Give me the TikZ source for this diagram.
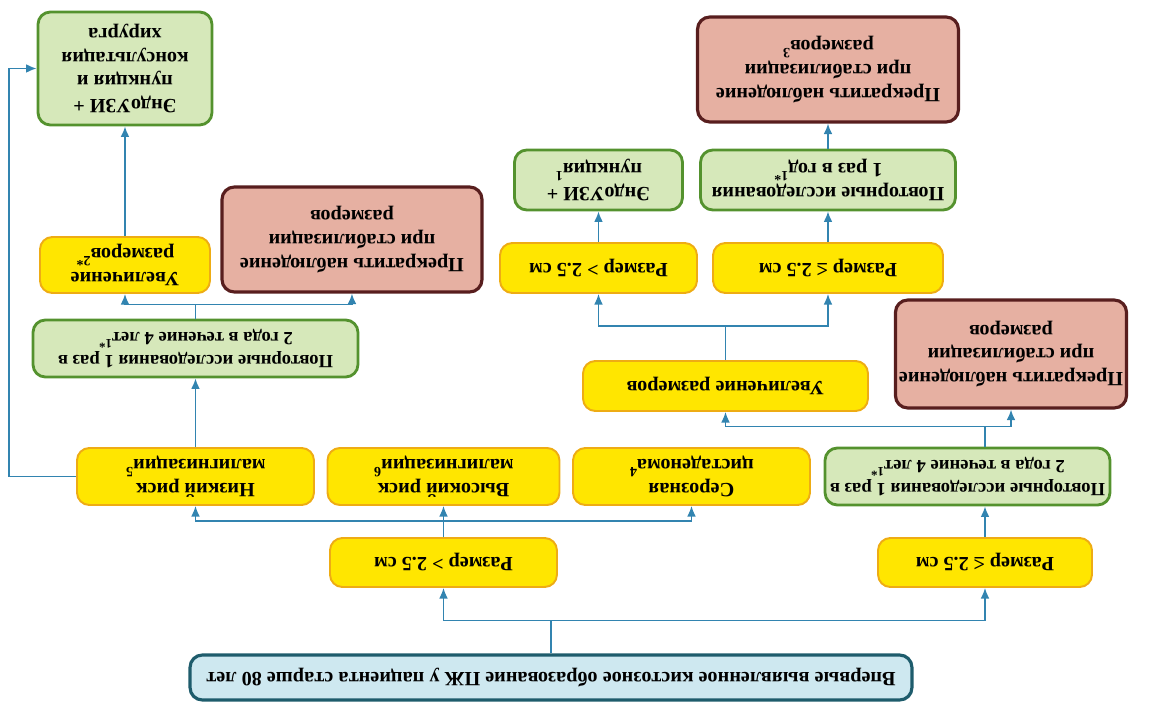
\documentclass[tikz,border=0pt]{standalone}
\usepackage{fontspec}
\setmainfont{Liberation Serif}
\usepackage{tikz}
\usetikzlibrary{shapes,arrows.meta}
\definecolor{linkblue}{RGB}{50,132,176}
\definecolor{boxyellow}{RGB}{255,230,0}
\definecolor{boxorange}{RGB}{238,172,20}
\definecolor{greenfill}{RGB}{214,232,186}
\definecolor{greenedge}{RGB}{84,146,46}
\definecolor{pinkfill}{RGB}{230,176,162}
\definecolor{pinkedge}{RGB}{88,30,30}
\definecolor{rootfill}{RGB}{206,232,240}
\definecolor{rootedge}{RGB}{30,92,108}
\tikzstyle{base} = [rectangle, rounded corners=7pt, align=center, inner sep=2pt,
font=\bfseries\fontsize{11.5}{13.5}\selectfont]
\tikzstyle{yellowbox} = [base, draw=boxorange, fill=boxyellow, line width=1.1pt]
\tikzstyle{greenbox} = [base, draw=greenedge, fill=greenfill, line width=1.6pt]
\tikzstyle{pinkbox} = [base, draw=pinkedge, fill=pinkfill, line width=1.8pt]
\tikzstyle{line} = [draw, -{Latex[length=6pt,width=5pt]}, linkblue, line width=0.9pt]

\begin{document}
\begin{tikzpicture}[x=0.02cm, y=-0.02cm, rotate=180, transform shape,
	rootbox/.style={base, draw=rootedge, fill=rootfill, line width=1.8pt},
	narrow/.style={font=\bfseries\fontsize{10.6}{13.5}\selectfont}]
	\useasboundingbox (0,0) rectangle (1151,707);
	%% Start
	\node [rootbox, minimum width=14.44cm, minimum height=0.9cm] (root) at (600,29.5)
		{Впервые выявленное кистозное образование ПЖ у пациента старше 80 лет};
	\node [yellowbox, minimum width=4.28cm, minimum height=0.98cm] (le) at (166,144.5) {Размер ≤ 2.5 см};
	\node [yellowbox, minimum width=4.54cm, minimum height=0.98cm] (gt) at (707.5,144.5) {Размер > 2.5 см};
	%% Second row
	\node [greenbox, narrow, minimum width=5.7cm, minimum height=1.14cm] (repA) at (183.5,230.5)
		{Повторные исследования 1 раз в\\2 года в течение 4 лет\textsuperscript{1*}};
	\node [yellowbox, minimum width=4.74cm, minimum height=1.14cm] (serous) at (459.5,230.5)
		{Серозная\\цистаденома\textsuperscript{4}};
	\node [yellowbox, minimum width=4.64cm, minimum height=1.14cm] (high) at (707.5,230.5)
		{Высокий риск\\малигнизации\textsuperscript{6}};
	\node [yellowbox, minimum width=4.74cm, minimum height=1.14cm] (low) at (955.5,230.5)
		{Низкий риск\\малигнизации\textsuperscript{5}};
	%% Small cysts
	\node [yellowbox, minimum width=5.7cm, minimum height=1cm] (grow) at (425.5,321) {Увеличение размеров};
	\node [pinkbox, minimum width=4.6cm, minimum height=2.16cm] (stopA) at (140,353)
		{Прекратить наблюдение\\при стабилизации\\размеров};
	\node [yellowbox, minimum width=3.94cm, minimum height=1cm] (gt2) at (552.5,439) {Размер > 2.5 см};
	\node [yellowbox, minimum width=4.6cm, minimum height=1cm] (le2) at (323,439) {Размер ≤ 2.5 см};
	\node [greenbox, minimum width=3.36cm, minimum height=1.2cm] (endoA) at (552.5,527)
		{ЭндоУЗИ +\\пункция\textsuperscript{1}};
	\node [greenbox, minimum width=5.1cm, minimum height=1.2cm] (repB) at (323,527)
		{Повторные исследования\\1 раз в год\textsuperscript{1*}};
	\node [pinkbox, minimum width=5.22cm, minimum height=2.1cm] (stopB) at (323,637.5)
		{Прекратить наблюдение\\при стабилизации\\размеров\textsuperscript{3}};
	%% Low risk
	\node [greenbox, narrow, minimum width=6.5cm, minimum height=1.14cm] (repC) at (955.5,358.5)
		{Повторные исследования 1 раз в\\2 года в течение 4 лет\textsuperscript{1*}};
	\node [yellowbox, minimum width=3.4cm, minimum height=1.12cm] (grow2) at (1026,442)
		{Увеличение\\размеров\textsuperscript{2*}};
	\node [pinkbox, minimum width=5.2cm, minimum height=2.1cm] (stopC) at (799,467.5)
		{Прекратить наблюдение\\при стабилизации\\размеров};
	\node [greenbox, minimum width=3.48cm, minimum height=2.26cm] (endoB) at (1026,638.5)
		{ЭндоУЗИ +\\пункция и\\консультация\\хирурга};
	%% Arrows
	\path [line] (root.south) -- ++(0,33) -| (le);
	\path [line] (root.south) -- ++(0,33) -| (gt);
	\path [line] (gt.south) -- ++(0,16) -| (serous);
	\path [line] (gt.south) -- ++(0,16) -| (high);
	\path [line] (gt.south) -- ++(0,16) -| (low);
	\path [line] (le.south) -- (le.south |- repA.north);
	\path [line] (le.south |- repA.south) -- ++(0,20) -| (grow);
	\path [line] (le.south |- repA.south) -- ++(0,20) -| (stopA);
	\path [line] (grow.south) -- ++(0,34) -| (gt2);
	\path [line] (grow.south) -- ++(0,34) -| (le2);
	\path [line] (gt2) -- (endoA);
	\path [line] (le2) -- (repB);
	\path [line] (repB) -- (stopB);
	\path [line] (low) -- (repC);
	\path [line] (repC.south) -- ++(0,14) -| (grow2);
	\path [line] (repC.south) -- ++(0,14) -| (stopC);
	\path [line] (grow2) -- (endoB);
	\path [line] (low.east) -- ++(67,0) |- (endoB.east);
\end{tikzpicture}
\end{document}
